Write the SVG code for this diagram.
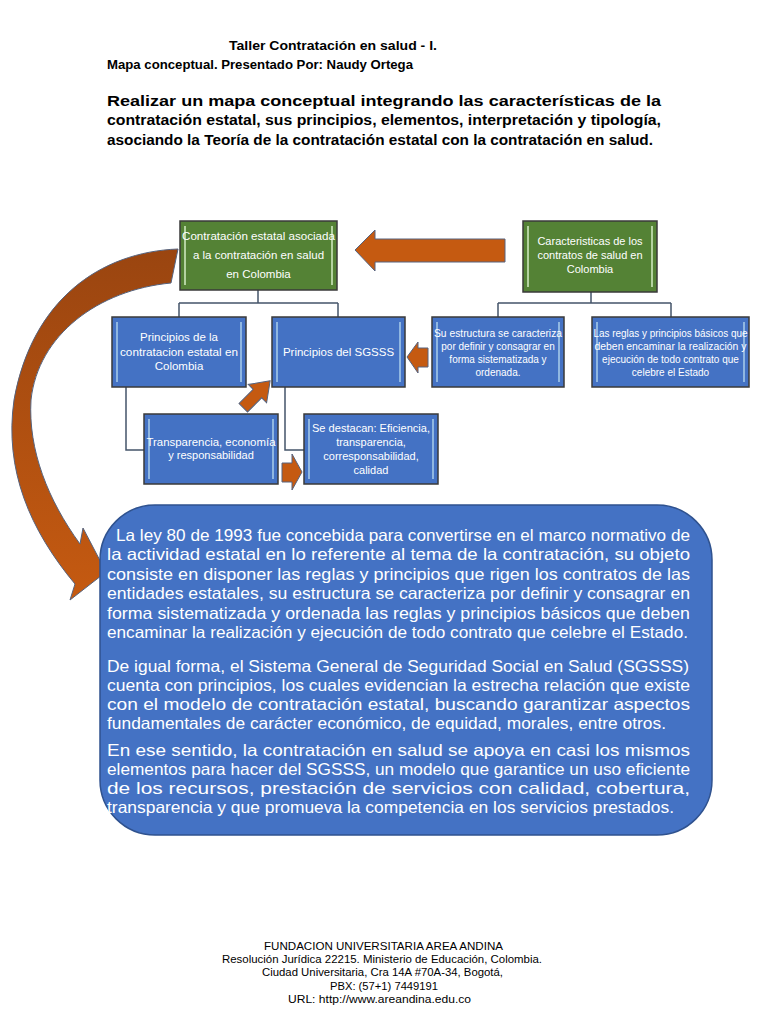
<svg xmlns="http://www.w3.org/2000/svg" width="768" height="1024" viewBox="0 0 768 1024">
<defs>
<linearGradient id="curveGrad" x1="0" y1="0" x2="0" y2="1">
<stop offset="0" stop-color="#9A4510"/>
<stop offset="1" stop-color="#C55A11"/>
</linearGradient>
<style>
.hdr{font-family:"Liberation Sans",Arial,sans-serif;font-weight:bold;font-size:13.5px;fill:#000}
.intro{font-family:"Liberation Sans",Arial,sans-serif;font-weight:bold;font-size:14.5px;fill:#000}
.foot{font-family:"Liberation Sans",Arial,sans-serif;font-size:10.5px;fill:#000;text-anchor:middle}
.body{font-family:"Liberation Sans Narrow","Liberation Sans",Arial,sans-serif;font-size:16.5px;fill:#fff}
.green{fill:#548235;stroke:#3A3A3A;stroke-width:1.5}
.blue{fill:#4472C4;stroke:#3A3A3A;stroke-width:1.5}
.gbar{stroke:#C5E0B4;stroke-width:2;fill:none;opacity:0.85}
.bbar{stroke:#9DC3E6;stroke-width:2;fill:none;opacity:0.85}
.lbl{font-family:"Liberation Sans",Arial,sans-serif;fill:#fff;text-anchor:middle}
.conn{fill:none;stroke:#44546A;stroke-width:1.5}
.oarrow{fill:#C55A11;stroke:#56637E;stroke-width:1}
</style>
</defs>
<rect width="768" height="1024" fill="#fff"/>

<!-- header -->
<text class="hdr" x="229" y="50" textLength="208" lengthAdjust="spacingAndGlyphs">Taller Contratación en salud - I.</text>
<text class="hdr" x="107" y="69" textLength="306" lengthAdjust="spacingAndGlyphs">Mapa conceptual. Presentado Por: Naudy Ortega</text>

<text class="intro" x="107" y="106" textLength="554" lengthAdjust="spacingAndGlyphs">Realizar un mapa conceptual integrando las características de la</text>
<text class="intro" x="107" y="125" textLength="554" lengthAdjust="spacingAndGlyphs">contratación estatal, sus principios, elementos, interpretación y tipología,</text>
<text class="intro" x="107" y="145" textLength="546" lengthAdjust="spacingAndGlyphs">asociando la Teoría de la contratación estatal con la contratación en salud.</text>

<!-- connectors -->
<g id="connectors">
<path class="conn" d="M258 290 V303 M179 303 H338 M179 303 V317 M338 303 V317"/>
<path class="conn" d="M591 292 V303 M498 303 H671 M498 303 V317 M671 303 V317"/>
<path class="conn" d="M126 387 V450 H144"/>
<path class="conn" d="M285 387 V450 H304"/>
<!-- big left arrow -->
<path class="oarrow" d="M355 250 L375 230 L375 239 L505 239 L505 262 L375 262 L375 271 Z"/>
<!-- small left arrow -->
<path class="oarrow" d="M407 357 L418 342 L418 348 L428 348 L428 367 L418 367 L418 373 Z"/>
<!-- small right arrow -->
<path class="oarrow" d="M302 472 L292 454 L292 463 L282 463 L282 482 L292 482 L292 490 Z"/>
<!-- diagonal arrow -->
<path class="oarrow" transform="translate(256 395) rotate(-45)" d="M20 0 L2 -13 L2 -6 L-18 -6 L-18 6 L2 6 L2 13 Z"/>
<!-- curved arrow -->
<path fill="url(#curveGrad)" stroke="#56637E" stroke-width="1" d="M178 249 C100 252 32 300 14 400 C4 470 30 530 75 584 L70 600 L106 572 L83 528 L80 544 C48 500 28 450 31 400 C38 335 98 290 171 283 Z"/>
</g>

<!-- nodes -->
<g id="n-contratacion-estatal">
<rect class="green" x="180" y="221" width="157" height="69"/>
<path class="gbar" d="M185 226 V285 M332 226 V285"/>
<text class="lbl" font-size="11.5" x="258.5" y="240" textLength="153" lengthAdjust="spacingAndGlyphs">Contratación estatal asociada</text>
<text class="lbl" font-size="11.5" x="258.5" y="259">a la contratación en salud</text>
<text class="lbl" font-size="11.5" x="258.5" y="278">en Colombia</text>
</g>

<g id="n-caracteristicas">
<rect class="green" x="523" y="221" width="134" height="71"/>
<path class="gbar" d="M528 226 V287 M652 226 V287"/>
<text class="lbl" font-size="11" x="590" y="245">Caracteristicas de los</text>
<text class="lbl" font-size="11" x="590" y="259">contratos de salud en</text>
<text class="lbl" font-size="11" x="590" y="273">Colombia</text>
</g>

<g id="n-principios-contratacion">
<rect class="blue" x="112" y="317" width="134" height="70"/>
<path class="bbar" d="M117 322 V382 M241 322 V382"/>
<text class="lbl" font-size="11.5" x="179" y="341">Principios de la</text>
<text class="lbl" font-size="11.5" x="179" y="356" textLength="118" lengthAdjust="spacingAndGlyphs">contratacion estatal en</text>
<text class="lbl" font-size="11.5" x="179" y="370">Colombia</text>
</g>

<g id="n-principios-sgsss">
<rect class="blue" x="272" y="317" width="133" height="70"/>
<path class="bbar" d="M277 322 V382 M400 322 V382"/>
<text class="lbl" font-size="11.5" x="338.5" y="356">Principios del SGSSS</text>
</g>

<g id="n-transparencia">
<rect class="blue" x="144" y="414" width="134" height="70"/>
<path class="bbar" d="M149 419 V479 M273 419 V479"/>
<text class="lbl" font-size="11" x="211" y="446" textLength="129" lengthAdjust="spacingAndGlyphs">Transparencia, economía</text>
<text class="lbl" font-size="11" x="211" y="459">y responsabilidad</text>
</g>

<g id="n-se-destacan">
<rect class="blue" x="304" y="414" width="134" height="70"/>
<path class="bbar" d="M309 419 V479 M433 419 V479"/>
<text class="lbl" font-size="11" x="371" y="432" textLength="118" lengthAdjust="spacingAndGlyphs">Se destacan: Eficiencia,</text>
<text class="lbl" font-size="11" x="371" y="446">transparencia,</text>
<text class="lbl" font-size="11" x="371" y="460">corresponsabilidad,</text>
<text class="lbl" font-size="11" x="371" y="474">calidad</text>
</g>

<g id="n-su-estructura">
<rect class="blue" x="432" y="317" width="132" height="70"/>
<path class="bbar" d="M437 322 V382 M559 322 V382"/>
<text class="lbl" font-size="10" x="498" y="337" textLength="128" lengthAdjust="spacingAndGlyphs">Su estructura se caracteriza</text>
<text class="lbl" font-size="10" x="498" y="350">por definir y consagrar en</text>
<text class="lbl" font-size="10" x="498" y="363">forma sistematizada y</text>
<text class="lbl" font-size="10" x="498" y="376">ordenada.</text>
</g>

<g id="n-las-reglas">
<rect class="blue" x="592" y="317" width="157" height="70"/>
<path class="bbar" d="M597 322 V382 M744 322 V382"/>
<text class="lbl" font-size="10" x="670.5" y="337" textLength="154" lengthAdjust="spacingAndGlyphs">Las reglas y principios básicos que</text>
<text class="lbl" font-size="10" x="670.5" y="350" textLength="152" lengthAdjust="spacingAndGlyphs">deben encaminar la realización y</text>
<text class="lbl" font-size="10" x="670.5" y="363">ejecución de todo contrato que</text>
<text class="lbl" font-size="10" x="670.5" y="376">celebre el Estado</text>
</g>

<g id="n-texto">
<rect x="100" y="505" width="612" height="330" rx="55" ry="55" fill="#4472C4" stroke="#2F528F" stroke-width="1.5"/>
<text class="body" x="116" y="541" textLength="574" lengthAdjust="spacingAndGlyphs">La ley 80 de 1993 fue concebida para convertirse en el marco normativo de</text>
<text class="body" x="107" y="560" textLength="583" lengthAdjust="spacingAndGlyphs">la actividad estatal en lo referente al tema de la contratación, su objeto</text>
<text class="body" x="107" y="580" textLength="583" lengthAdjust="spacingAndGlyphs">consiste en disponer las reglas y principios que rigen los contratos de las</text>
<text class="body" x="107" y="599" textLength="583" lengthAdjust="spacingAndGlyphs">entidades estatales, su estructura se caracteriza por definir y consagrar en</text>
<text class="body" x="107" y="619" textLength="583" lengthAdjust="spacingAndGlyphs">forma sistematizada y ordenada las reglas y principios básicos que deben</text>
<text class="body" x="107" y="638" textLength="581" lengthAdjust="spacingAndGlyphs">encaminar la realización y ejecución de todo contrato que celebre el Estado.</text>

<text class="body" x="107" y="672" textLength="582" lengthAdjust="spacingAndGlyphs">De igual forma, el Sistema General de Seguridad Social en Salud (SGSSS)</text>
<text class="body" x="107" y="691" textLength="583" lengthAdjust="spacingAndGlyphs">cuenta con principios, los cuales evidencian la estrecha relación que existe</text>
<text class="body" x="107" y="710" textLength="583" lengthAdjust="spacingAndGlyphs">con el modelo de contratación estatal, buscando garantizar aspectos</text>
<text class="body" x="107" y="729" textLength="559" lengthAdjust="spacingAndGlyphs">fundamentales de carácter económico, de equidad, morales, entre otros.</text>

<text class="body" x="107" y="756" textLength="583" lengthAdjust="spacingAndGlyphs">En ese sentido, la contratación en salud se apoya en casi los mismos</text>
<text class="body" x="107" y="775" textLength="583" lengthAdjust="spacingAndGlyphs">elementos para hacer del SGSSS, un modelo que garantice un uso eficiente</text>
<text class="body" x="107" y="794" textLength="583" lengthAdjust="spacingAndGlyphs">de los recursos, prestación de servicios con calidad, cobertura,</text>
<text class="body" x="107" y="813" textLength="567" lengthAdjust="spacingAndGlyphs">transparencia y que promueva la competencia en los servicios prestados.</text>
</g>

<!-- footer -->
<text class="foot" x="383.5" y="950" textLength="239" lengthAdjust="spacingAndGlyphs">FUNDACION UNIVERSITARIA AREA ANDINA</text>
<text class="foot" x="382" y="963" textLength="320" lengthAdjust="spacingAndGlyphs">Resolución Jurídica 22215. Ministerio de Educación, Colombia.</text>
<text class="foot" x="382.5" y="976" textLength="241" lengthAdjust="spacingAndGlyphs">Ciudad Universitaria, Cra 14A #70A-34, Bogotá,</text>
<text class="foot" x="384" y="990" textLength="108" lengthAdjust="spacingAndGlyphs">PBX: (57+1) 7449191</text>
<text class="foot" x="379.5" y="1003" textLength="183" lengthAdjust="spacingAndGlyphs">URL: http://www.areandina.edu.co</text>
</svg>
